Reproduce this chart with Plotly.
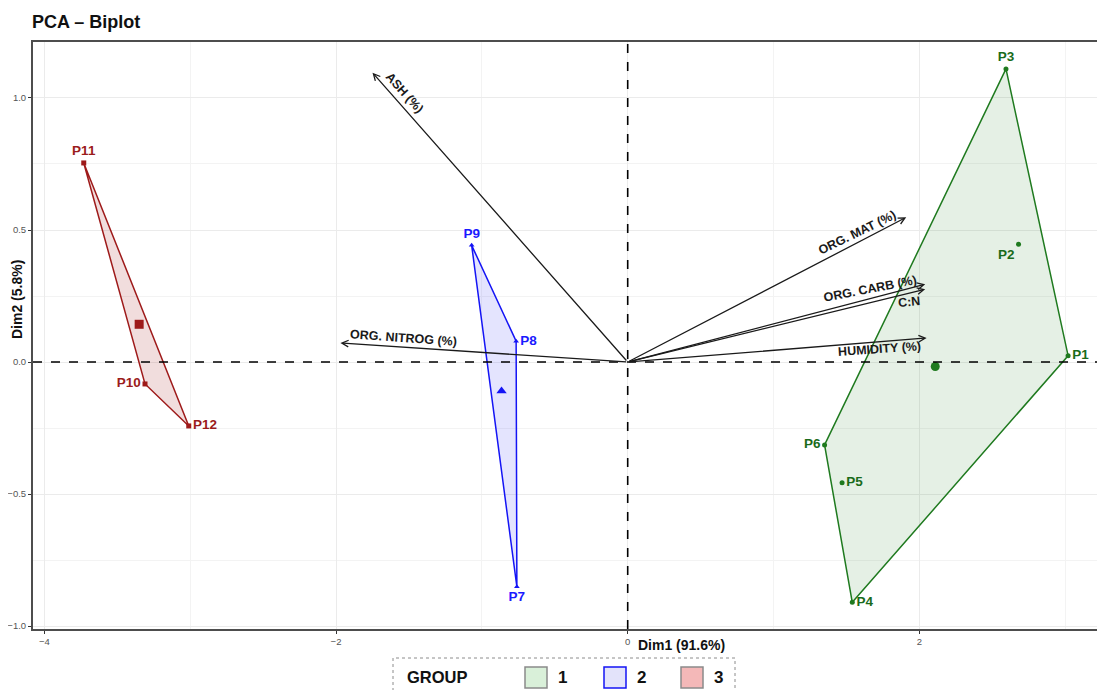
import numpy as np
import plotly.graph_objects as go

# ---------------- data ----------------
point_names = ["P1", "P2", "P3", "P4", "P5", "P6", "P7", "P8", "P9", "P10", "P11", "P12"]
dim1 = [3.02, 2.68, 2.594, 1.54, 1.47, 1.35, -0.76, -0.765, -1.07, -3.31, -3.73, -3.01]
dim2 = [0.024, 0.446, 1.11, -0.91, -0.457, -0.314, -0.851, 0.079, 0.442, -0.083, 0.754, -0.242]
group = [1, 1, 1, 1, 1, 1, 2, 2, 2, 3, 3, 3]
label_pos = ["middle right", "bottom left", "top center", "middle right", "middle right", "middle left",
             "bottom center", "middle right", "top center", "middle left", "top center", "middle right"]

var_names = ["ASH (%)", "ORG. MAT (%)", "ORG. CARB (%)", "C:N", "HUMIDITY (%)", "ORG. NITROG (%)"]
var_dim1 = [-1.75, 1.91, 2.04, 2.04, 2.05, -1.97]
var_dim2 = [1.096, 0.548, 0.295, 0.276, 0.091, 0.072]
var_label_x = [-1.53, 1.57, 1.66, 1.93, 1.73, -1.54]
var_label_y = [1.02, 0.49, 0.276, 0.227, 0.049, 0.09]
var_label_angle = [48, -26, -11, -5, -4, 4]

x_ticks = [-4, -2, 0, 2]
x_tick_labels = ["−4", "−2", "0", "2"]
y_ticks = [-1, -0.5, 0, 0.5, 1]
y_tick_labels = ["−1.0", "−0.5", "0.0", "0.5", "1.0"]

groups = [1, 2, 3]
group_line = {1: "#1F7A1F", 2: "#1414F5", 3: "#9E1A1A"}
group_text = {1: "#1A6B1A", 2: "#1A1AFF", 3: "#9B1C1C"}
group_fill = {1: "rgba(40,130,40,0.12)", 2: "rgba(30,30,245,0.12)", 3: "rgba(158,26,26,0.15)"}
group_symbol = {1: "circle", 2: "triangle-up", 3: "square"}
legend_box_fill = {1: "#D9F0D9", 2: "#E3E3FA", 3: "#F4B8B8"}
legend_box_line = {1: "#8A8A8A", 2: "#1414F5", 3: "#8A8A8A"}
legend_marker = {1: "#0F5F0F", 2: "#1010C8", 3: "#E00000"}

FONT = "Liberation Sans, Arial, sans-serif"

# ---------------- helpers ----------------
def convex_hull(pts):
    pts = sorted(set(pts))
    if len(pts) <= 2:
        return pts
    def cross(o, a, b):
        return (a[0]-o[0])*(b[1]-o[1]) - (a[1]-o[1])*(b[0]-o[0])
    lower, upper = [], []
    for p in pts:
        while len(lower) >= 2 and cross(lower[-2], lower[-1], p) <= 0:
            lower.pop()
        lower.append(p)
    for p in reversed(pts):
        while len(upper) >= 2 and cross(upper[-2], upper[-1], p) <= 0:
            upper.pop()
        upper.append(p)
    return lower[:-1] + upper[:-1]

W, H = 1105, 690
OFF = 8  # page body margin
# desired on-screen plot rectangle: left 33, right 1105, top 42, bottom 629
ML = 33 - OFF
MT = 42 - OFF
MR = W - (1105 - OFF)
MB = H - (629 - OFF)
PW, PH = W - ML - MR, H - MT - MB

def px(xs):
    return (xs - OFF - ML) / PW

def py(ys):
    return (H - MB - (ys - OFF)) / PH

fig = go.Figure()

# hulls
for g in groups:
    pts = [(dim1[i], dim2[i]) for i in range(len(dim1)) if group[i] == g]
    hull = convex_hull(pts)
    hx = [p[0] for p in hull] + [hull[0][0]]
    hy = [p[1] for p in hull] + [hull[0][1]]
    fig.add_trace(go.Scatter(x=hx, y=hy, mode="lines", fill="toself",
                             fillcolor=group_fill[g],
                             line=dict(color=group_line[g], width=1.5),
                             hoverinfo="skip", showlegend=False))

# points, labels, centroids
for g in groups:
    idx = [i for i in range(len(dim1)) if group[i] == g]
    gx = [dim1[i] for i in idx]
    gy = [dim2[i] for i in idx]
    fig.add_trace(go.Scatter(x=gx, y=gy, mode="markers+text",
                             text=[point_names[i] for i in idx],
                             textposition=[label_pos[i] for i in idx],
                             textfont=dict(family=FONT, size=13.5, color=group_text[g], weight="bold"),
                             marker=dict(symbol=group_symbol[g], size=5, color=group_line[g]),
                             showlegend=False))
    fig.add_trace(go.Scatter(x=[float(np.mean(gx))], y=[float(np.mean(gy))], mode="markers",
                             marker=dict(symbol=group_symbol[g], size=9, color=group_line[g]),
                             showlegend=False, hoverinfo="skip"))

# zero lines
shapes = [
    dict(type="line", xref="x", yref="paper", x0=0, x1=0, y0=0, y1=1,
         line=dict(color="black", width=1.6, dash="dash")),
    dict(type="line", xref="paper", yref="y", x0=0, x1=1, y0=0, y1=0,
         line=dict(color="black", width=1.6, dash="dash")),
]

annotations = []
# variable arrows
for i, name in enumerate(var_names):
    annotations.append(dict(x=var_dim1[i], y=var_dim2[i], ax=0, ay=0,
                            xref="x", yref="y", axref="x", ayref="y",
                            text="", showarrow=True, arrowhead=5, arrowsize=1.0,
                            arrowwidth=1.3, arrowcolor="#1A1A1A", standoff=0))
    annotations.append(dict(x=var_label_x[i], y=var_label_y[i], xref="x", yref="y",
                            text=name, showarrow=False, textangle=var_label_angle[i],
                            font=dict(family=FONT, size=12.5, color="#1A1A1A", weight="bold")))

# title and axis titles
annotations.append(dict(x=px(30), y=py(22), xref="paper", yref="paper", xanchor="left", yanchor="middle",
                        text="<b>PCA – Biplot</b>", showarrow=False,
                        font=dict(family=FONT, size=18, color="#111111")))
annotations.append(dict(x=px(681), y=py(645), xref="paper", yref="paper", xanchor="center", yanchor="middle",
                        text="<b>Dim1 (91.6%)</b>", showarrow=False,
                        font=dict(family=FONT, size=14, color="#111111")))
annotations.append(dict(x=px(17), y=py(300), xref="paper", yref="paper", xanchor="center", yanchor="middle",
                        text="<b>Dim2 (5.8%)</b>", showarrow=False, textangle=-90,
                        font=dict(family=FONT, size=14, color="#111111")))

# legend (manual)
shapes.append(dict(type="rect", xref="paper", yref="paper",
                   x0=px(393), x1=px(735), y0=py(700), y1=py(658),
                   line=dict(color="#8C8C8C", width=1, dash="dot"), fillcolor="white", layer="below"))
annotations.append(dict(x=px(405), y=py(677), xref="paper", yref="paper", xanchor="left", yanchor="middle",
                        text="<b>GROUP</b>", showarrow=False,
                        font=dict(family=FONT, size=16.5, color="#111111")))
key_x = {1: 525, 2: 604, 3: 681}
for g in groups:
    x0 = key_x[g]
    shapes.append(dict(type="rect", xref="paper", yref="paper",
                       x0=px(x0), x1=px(x0 + 22), y0=py(688), y1=py(667),
                       line=dict(color=legend_box_line[g], width=1.5), fillcolor=legend_box_fill[g]))
    annotations.append(dict(x=px(x0 + 31), y=py(677), xref="paper", yref="paper", xanchor="left",
                            yanchor="middle", text="<b>%d</b>" % g, showarrow=False,
                            font=dict(family=FONT, size=17, color="#111111")))
    fig.add_trace(go.Scatter(x=[px(x0 + 11)], y=[py(677.5)], xaxis="x2", yaxis="y2", mode="markers",
                             marker=dict(symbol=group_symbol[g], size=8 if g != 3 else 7,
                                         color=legend_marker[g]),
                             showlegend=False, hoverinfo="skip", cliponaxis=False))

fig.update_layout(
    width=W, height=H,
    margin=dict(l=ML, r=MR, t=MT, b=MB, autoexpand=False),
    paper_bgcolor="white", plot_bgcolor="white",
    font=dict(family=FONT),
    shapes=shapes, annotations=annotations,
    showlegend=False,
    xaxis=dict(range=[-4.078, 3.273], tickvals=x_ticks, ticktext=x_tick_labels, automargin=False,
               showgrid=True, gridcolor="#EBEBEB", gridwidth=1,
               minor=dict(tickvals=[-3, -1, 1, 3], showgrid=True, gridcolor="#F3F3F3", ticklen=0),
               zeroline=False, showline=True, linecolor="#4D4D4D", linewidth=2, mirror=True,
               ticks="outside", ticklen=3, tickcolor="#333333",
               tickfont=dict(family=FONT, size=9.5, color="#555555")),
    yaxis=dict(range=[-1.011, 1.212], tickvals=y_ticks, ticktext=y_tick_labels, automargin=False,
               showgrid=True, gridcolor="#EBEBEB", gridwidth=1,
               minor=dict(tickvals=[-0.75, -0.25, 0.25, 0.75], showgrid=True, gridcolor="#F3F3F3", ticklen=0),
               zeroline=False, showline=True, linecolor="#4D4D4D", linewidth=2, mirror=True,
               ticks="outside", ticklen=3, tickcolor="#333333",
               tickfont=dict(family=FONT, size=9.5, color="#555555")),
    xaxis2=dict(range=[0, 1], domain=[0, 1], overlaying="x", visible=False, fixedrange=True),
    yaxis2=dict(range=[0, 1], domain=[0, 1], overlaying="y", visible=False, fixedrange=True),
)

fig.write_html("out.html")
